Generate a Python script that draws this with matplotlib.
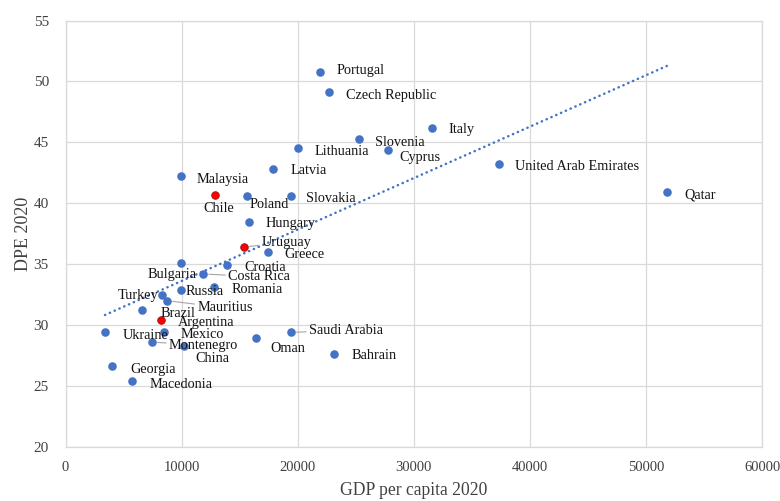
import numpy as np
import matplotlib
matplotlib.use("Agg")
import matplotlib.pyplot as plt

# ---------------- data: GDP per capita vs DPE, 2020 ----------------
countries = ["Portugal", "Czech Republic", "Italy", "Slovenia", "Cyprus",
             "Lithuania", "Latvia", "Malaysia", "United Arab Emirates", "Qatar",
             "Chile", "Poland", "Slovakia", "Hungary", "Uruguay", "Greece",
             "Croatia", "Bulgaria", "Costa Rica", "Romania", "Russia", "Turkey",
             "Mauritius", "Brazil", "Argentina", "Ukraine", "Mexico",
             "Montenegro", "China", "Oman", "Saudi Arabia", "Bahrain",
             "Georgia", "Macedonia"]
gdp = [21900, 22700, 31550, 25250, 27750,
       20000, 17900, 9950, 37300, 51800,
       12850, 15600, 19400, 15800, 15350, 17450,
       13900, 9950, 11850, 12800, 9950, 8300,
       8750, 6600, 8200, 3400, 8500,
       7450, 10200, 16400, 19400, 23100,
       4000, 5700]
dpe = [50.8, 49.1, 46.2, 45.3, 44.4,
       44.5, 42.8, 42.2, 43.2, 40.9,
       40.7, 40.6, 40.6, 38.5, 36.4, 36.0,
       34.9, 35.1, 34.2, 33.1, 32.9, 32.5,
       32.0, 31.2, 30.4, 29.4, 29.4,
       28.6, 28.3, 28.9, 29.4, 27.6,
       26.6, 25.4]
highlighted = ["Chile", "Uruguay", "Argentina"]

# label offsets in pixels (dx, dy) and which labels get a leader line
offsets = {
    "Portugal": (17, 1), "Czech Republic": (17, -3), "Italy": (17, -2),
    "Slovenia": (16, -4), "Cyprus": (12, -8), "Lithuania": (17, -3),
    "Latvia": (17, -1), "Malaysia": (16, -3), "United Arab Emirates": (16, -2),
    "Qatar": (18, -3), "Chile": (-11, -14), "Poland": (3, -9),
    "Slovakia": (15, -3), "Hungary": (17, -2), "Uruguay": (18, 5),
    "Greece": (16, -3), "Croatia": (17, -2), "Bulgaria": (-33, -12),
    "Costa Rica": (25, -3), "Romania": (17, -2), "Russia": (5, -2),
    "Turkey": (-44, -1), "Mauritius": (30, -7), "Brazil": (18, -3),
    "Argentina": (17, -2), "Ukraine": (18, -3), "Mexico": (16, -2),
    "Montenegro": (17, -3), "China": (11, -13), "Oman": (14, -10),
    "Saudi Arabia": (18, 2), "Bahrain": (18, -1), "Georgia": (18, -3),
    "Macedonia": (18, -3),
}
leaders = ["Uruguay", "Costa Rica", "Mauritius", "Montenegro", "Saudi Arabia"]

BLUE = "#4472C4"
GRID = "#d9d9d9"
SERIF = ["Liberation Serif", "DejaVu Serif"]

fig = plt.figure(figsize=(7.8, 5.01), dpi=100)
ax = fig.add_axes([0.084, 0.108, 0.893, 0.851])

x = np.array(gdp, dtype=float)
y = np.array(dpe, dtype=float)
red = np.array([c in highlighted for c in countries])

# linear trendline over the data range
slope, intercept = np.polyfit(x, y, 1)
xs = np.array([x.min(), x.max()])
ax.plot(xs, slope * xs + intercept, color=BLUE, lw=1.8,
        linestyle=(0, (0.1, 2.0)), dash_capstyle="round", zorder=2)

ax.scatter(x[~red], y[~red], s=38, color=BLUE, zorder=3, linewidths=0)
ax.scatter(x[red], y[red], s=30, color="#ff0000", edgecolor="#a01010",
           linewidths=0.6, zorder=3)

for c, xv, yv in zip(countries, gdp, dpe):
    dx, dy = offsets[c]
    props = None
    if c in leaders:
        props = dict(arrowstyle="-", color="#a6a6a6", lw=0.8,
                     shrinkA=0, shrinkB=4)
    ax.annotate(c, (xv, yv), xytext=(dx, dy), textcoords="offset pixels",
                ha="left", va="center", fontsize=10.3, color="#141414",
                family=SERIF, arrowprops=props, zorder=4)

ax.set_xlim(0, 60000)
ax.set_ylim(20, 55)
ax.set_xticks(np.arange(0, 60001, 10000))
ax.set_yticks(np.arange(20, 56, 5))
ax.grid(True, color=GRID, lw=0.9)
ax.set_axisbelow(True)
for sp in ax.spines.values():
    sp.set_color(GRID)
    sp.set_linewidth(0.9)
ax.tick_params(length=0, labelsize=10.5, colors="#404040")
ax.tick_params(axis="x", pad=10)
ax.tick_params(axis="y", labelsize=11, pad=12)
for lab in ax.get_xticklabels() + ax.get_yticklabels():
    lab.set_family(SERIF)

ax.set_xlabel("GDP per capita 2020", fontsize=12.7, color="#404040",
              family=SERIF, labelpad=6)
ax.set_ylabel("DPE 2020", fontsize=13, color="#404040",
              family=SERIF, labelpad=1)

fig.savefig("out.png", dpi=100)
